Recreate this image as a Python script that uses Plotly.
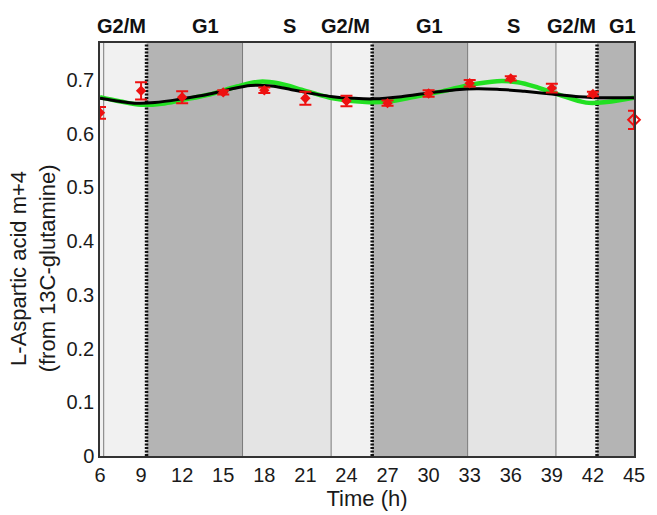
import plotly.graph_objects as go

# Measured label fraction (mean and error) over time
time_h = [6, 9, 12, 15, 18, 21, 24, 27, 30, 33, 36, 39, 42, 45]
frac = [0.639, 0.680, 0.668, 0.677, 0.681, 0.666, 0.661, 0.657, 0.675, 0.694, 0.703, 0.685, 0.674, 0.626]
frac_err = [0.011, 0.016, 0.011, 0.004, 0.005, 0.012, 0.010, 0.005, 0.006, 0.006, 0.004, 0.008, 0.004, 0.017]

# Fitted model curves
black_t = [6, 7.5, 8.5, 10, 12, 14, 15.5, 17, 18.5, 20, 21.5, 23, 24.5, 26, 28, 30, 32, 33.5, 35, 37, 39, 41, 43, 45]
black_v = [0.666, 0.660, 0.657, 0.658, 0.665, 0.674, 0.683, 0.690, 0.689, 0.682, 0.675, 0.669, 0.666, 0.665,
           0.669, 0.676, 0.682, 0.684, 0.683, 0.679, 0.674, 0.669, 0.667, 0.667]
green_t = [6, 7.5, 9, 10.5, 12, 14, 16, 17.7, 19, 21, 23, 25.4, 27, 29, 31, 33, 35, 36.5, 38, 39.5, 41.5, 43, 45]
green_v = [0.668, 0.660, 0.654, 0.656, 0.663, 0.673, 0.688, 0.697, 0.694, 0.680, 0.666, 0.659, 0.660, 0.669,
           0.679, 0.691, 0.698, 0.696, 0.686, 0.673, 0.658, 0.659, 0.667]

# Cell-cycle phases
phase_start = [6.0, 6.27, 9.4, 16.41, 22.88, 25.88, 32.85, 39.3, 42.3]
phase_end = [6.27, 9.4, 16.41, 22.88, 25.88, 32.85, 39.3, 42.3, 45.0]
phase_kind = ["G2/M", "G2/M", "G1", "S", "G2/M", "G1", "S", "G2/M", "G1"]
phase_color = {"G2/M": "#f1f1f1", "G1": "#b4b4b4", "S": "#e4e4e4"}
thin_bounds = [6.27, 16.41, 22.88, 32.85, 39.3]
division_bounds = [9.4, 25.88, 42.3]
label_text = ["G2/M", "G1", "S", "G2/M", "G1", "S", "G2/M", "G1"]
label_pos = [7.56, 13.67, 19.84, 23.96, 30.07, 36.2, 40.43, 44.18]

x_ticks = list(range(6, 46, 3))
y_ticks = [0, 0.1, 0.2, 0.3, 0.4, 0.5, 0.6, 0.7]

FONT = "Liberation Sans, Arial, sans-serif"

fig = go.Figure()

shapes = []
for s, e, k in zip(phase_start, phase_end, phase_kind):
    shapes.append(dict(type="rect", xref="x", yref="paper", x0=s, x1=e, y0=0, y1=1,
                       fillcolor=phase_color[k], line_width=0, layer="below"))
for b in thin_bounds:
    shapes.append(dict(type="line", xref="x", yref="paper", x0=b, x1=b, y0=0, y1=1,
                       line=dict(color="#7a7a7a", width=1), layer="below"))
for b in division_bounds:
    shapes.append(dict(type="line", xref="x", yref="paper", x0=b, x1=b, y0=0, y1=1,
                       line=dict(color="#111111", width=3.5, dash="2px,1.5px"), layer="below"))

fig.add_trace(go.Scatter(x=green_t, y=green_v, mode="lines", line_shape="spline",
                         line=dict(color="#22e022", width=4.5), hoverinfo="skip"))
fig.add_trace(go.Scatter(x=black_t, y=black_v, mode="lines", line_shape="spline",
                         line=dict(color="#000000", width=3), hoverinfo="skip"))

# Measurements inside the axis range
fig.add_trace(go.Scatter(
    x=time_h[:-1], y=frac[:-1], mode="markers",
    marker=dict(symbol="diamond", size=8, color="#ee1111"),
    error_y=dict(type="data", array=frac_err[:-1], color="#ee1111", thickness=2, width=6),
))
# Last measurement sits on the right axis edge
fig.add_trace(go.Scatter(
    x=time_h[-1:], y=frac[-1:], mode="markers", cliponaxis=False,
    marker=dict(symbol="diamond-open", size=9, color="#ee1111", line=dict(width=2)),
    error_y=dict(type="data", array=frac_err[-1:], color="#ee1111", thickness=2, width=6),
))

annotations = []
for t, p in zip(label_text, label_pos):
    annotations.append(dict(x=p, y=1, xref="x", yref="paper", yanchor="bottom", yshift=4,
                            text="<b>%s</b>" % t, showarrow=False,
                            font=dict(family=FONT, size=20, color="#111111")))
annotations.append(dict(x=-0.125, y=0.455, xref="paper", yref="paper", xanchor="center", yanchor="middle",
                        text="L-Aspartic acid m+4<br>(from 13C-glutamine)", textangle=-90,
                        showarrow=False, font=dict(family=FONT, size=22, color="#1a1a1a")))

fig.update_layout(
    width=657, height=515,
    margin=dict(l=100, r=14, t=43, b=53),
    paper_bgcolor="white", plot_bgcolor="white",
    showlegend=False,
    shapes=shapes, annotations=annotations,
    font=dict(family=FONT, color="#1a1a1a"),
    xaxis=dict(range=[6, 45], tickvals=x_ticks, ticks="", showgrid=False, zeroline=False,
               showline=True, mirror=True, linecolor="#333333", linewidth=1.5,
               tickfont=dict(size=20), title=dict(text="Time (h)", font=dict(size=22), standoff=2)),
    yaxis=dict(range=[0, 0.769], tickvals=y_ticks, ticktext=["0", "0.1", "0.2", "0.3", "0.4", "0.5", "0.6", "0.7"],
               ticks="", showgrid=False, zeroline=False,
               showline=True, mirror=True, linecolor="#333333", linewidth=1.5,
               tickfont=dict(size=20)),
)

fig.write_html("out.html")
